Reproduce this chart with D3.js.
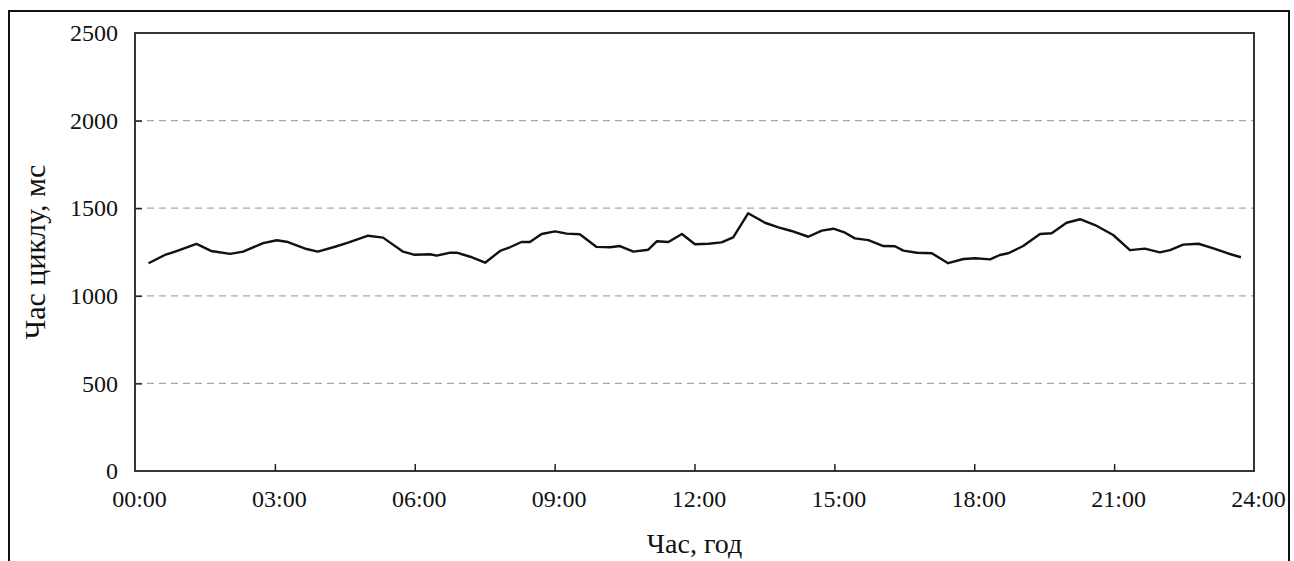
<!DOCTYPE html>
<html>
<head>
<meta charset="utf-8">
<script src="https://cdn.jsdelivr.net/npm/d3@7"></script>
<style>
  body { margin: 0; background: #fff; }
  svg { display: block; }
  text { font-family: "Liberation Serif", "Times New Roman", serif; fill: #111; }
</style>
</head>
<body>
<svg id="chart"></svg>
<script>
// time of day in hours
var hours = [0.29, 0.64, 0.86, 1.32, 1.63, 2.04, 2.32, 2.75, 3.04, 3.28, 3.68, 3.92, 4.29, 4.57, 5.00, 5.32, 5.75, 6.00,
    6.33, 6.47, 6.76, 6.90, 7.19, 7.51, 7.83, 8.04, 8.29, 8.47, 8.72, 9.01, 9.26, 9.54, 9.90, 10.19, 10.40, 10.69,
    11.01, 11.19, 11.44, 11.73, 12.01, 12.30, 12.58, 12.83, 13.15, 13.51, 13.80, 14.08, 14.44, 14.73, 14.98, 15.23,
    15.44, 15.73, 16.05, 16.30, 16.48, 16.77, 17.09, 17.44, 17.77, 18.02, 18.34, 18.55, 18.73, 19.05, 19.41, 19.66,
    19.98, 20.27, 20.59, 20.98, 21.34, 21.66, 21.98, 22.20, 22.48, 22.81, 23.13, 23.43, 23.72];
// cycle time, ms
var cycleMs = [1186, 1233, 1252, 1296, 1256, 1239, 1252, 1301, 1317, 1307, 1267, 1252, 1280, 1303, 1343, 1332, 1252, 1234,
    1237, 1229, 1246, 1246, 1223, 1189, 1256, 1277, 1307, 1307, 1353, 1368, 1355, 1351, 1279, 1277, 1284, 1252,
    1263, 1311, 1307, 1353, 1294, 1297, 1305, 1334, 1471, 1417, 1391, 1370, 1337, 1372, 1383, 1360,
    1328, 1318, 1284, 1283, 1258, 1246, 1243, 1186, 1210, 1214, 1208, 1233, 1243, 1284, 1353, 1357,
    1417, 1437, 1404, 1347, 1261, 1269, 1248, 1261, 1292, 1297, 1271, 1243, 1220];
var xTicks = [0, 3, 6, 9, 12, 15, 18, 21, 24];
var xTickLabels = ["00:00", "03:00", "06:00", "09:00", "12:00", "15:00", "18:00", "21:00", "24:00"];
var yTicks = [0, 500, 1000, 1500, 2000, 2500];
var xTitle = "Час, год";
var yTitle = "Час циклу, мс";

var width = 1294, height = 561;
var margin = {left: 135, right: 40, top: 33, bottom: 90};
var svg = d3.select("#chart").attr("width", width).attr("height", height);

// outer frame
svg.append("rect")
    .attr("x", 9).attr("y", 11)
    .attr("width", 1280).attr("height", 600)
    .attr("fill", "none").attr("stroke", "#111").attr("stroke-width", 2);

var x = d3.scaleLinear().domain([0, 24]).range([margin.left, width - margin.right]);
var y = d3.scaleLinear().domain([0, 2500]).range([height - margin.bottom, margin.top]);

// gridlines
svg.append("g").selectAll("line")
    .data(yTicks.filter(function (d) { return d > 0 && d < 2500; }))
    .enter().append("line")
    .attr("x1", x(0)).attr("x2", x(24))
    .attr("y1", function (d) { return y(d); })
    .attr("y2", function (d) { return y(d); })
    .attr("stroke", "#a8a8a8").attr("stroke-width", 1.3)
    .attr("stroke-dasharray", "7,5");

// axes, ticks pointing inward
var xAxis = svg.append("g")
    .attr("transform", "translate(0," + y(0) + ")")
    .call(d3.axisBottom(x).tickValues(xTicks)
        .tickFormat(function (d, i) { return xTickLabels[i]; })
        .tickSizeInner(-7).tickSizeOuter(0).tickPadding(19));
var yAxis = svg.append("g")
    .attr("transform", "translate(" + x(0) + ",0)")
    .call(d3.axisLeft(y).tickValues(yTicks).tickFormat(d3.format("d"))
        .tickSizeInner(-7).tickSizeOuter(0).tickPadding(17));

[xAxis, yAxis].forEach(function (a) {
    a.attr("font-size", null).attr("font-family", null);
    a.select(".domain").remove();
    a.selectAll("line").attr("stroke", "#222").attr("stroke-width", 1.5);
    a.selectAll("text").style("font-size", "24px").attr("fill", "#111");
});
xAxis.selectAll("text").attr("dx", 4);
xAxis.selectAll("line").filter(function (d) { return d == 0 || d == 24; }).remove();
yAxis.selectAll("line").filter(function (d) { return d == 0 || d == 2500; }).remove();

// plot frame
svg.append("rect")
    .attr("x", x(0)).attr("y", y(2500))
    .attr("width", x(24) - x(0)).attr("height", y(0) - y(2500))
    .attr("fill", "none").attr("stroke", "#222").attr("stroke-width", 1.8);

// series
var pts = hours.map(function (h, i) { return [h, cycleMs[i]]; });
svg.append("path")
    .datum(pts)
    .attr("fill", "none")
    .attr("stroke", "#111")
    .attr("stroke-width", 2.4)
    .attr("stroke-linejoin", "round")
    .attr("d", d3.line()
        .x(function (d) { return x(d[0]); })
        .y(function (d) { return y(d[1]); }));

// titles
svg.append("text")
    .attr("x", (x(0) + x(24)) / 2).attr("y", 553)
    .attr("text-anchor", "middle")
    .style("font-size", "28px")
    .text(xTitle);
svg.append("text")
    .attr("transform", "translate(45," + (y(1250)) + ") rotate(-90)")
    .attr("text-anchor", "middle")
    .style("font-size", "30px")
    .text(yTitle);
</script>
</body>
</html>
